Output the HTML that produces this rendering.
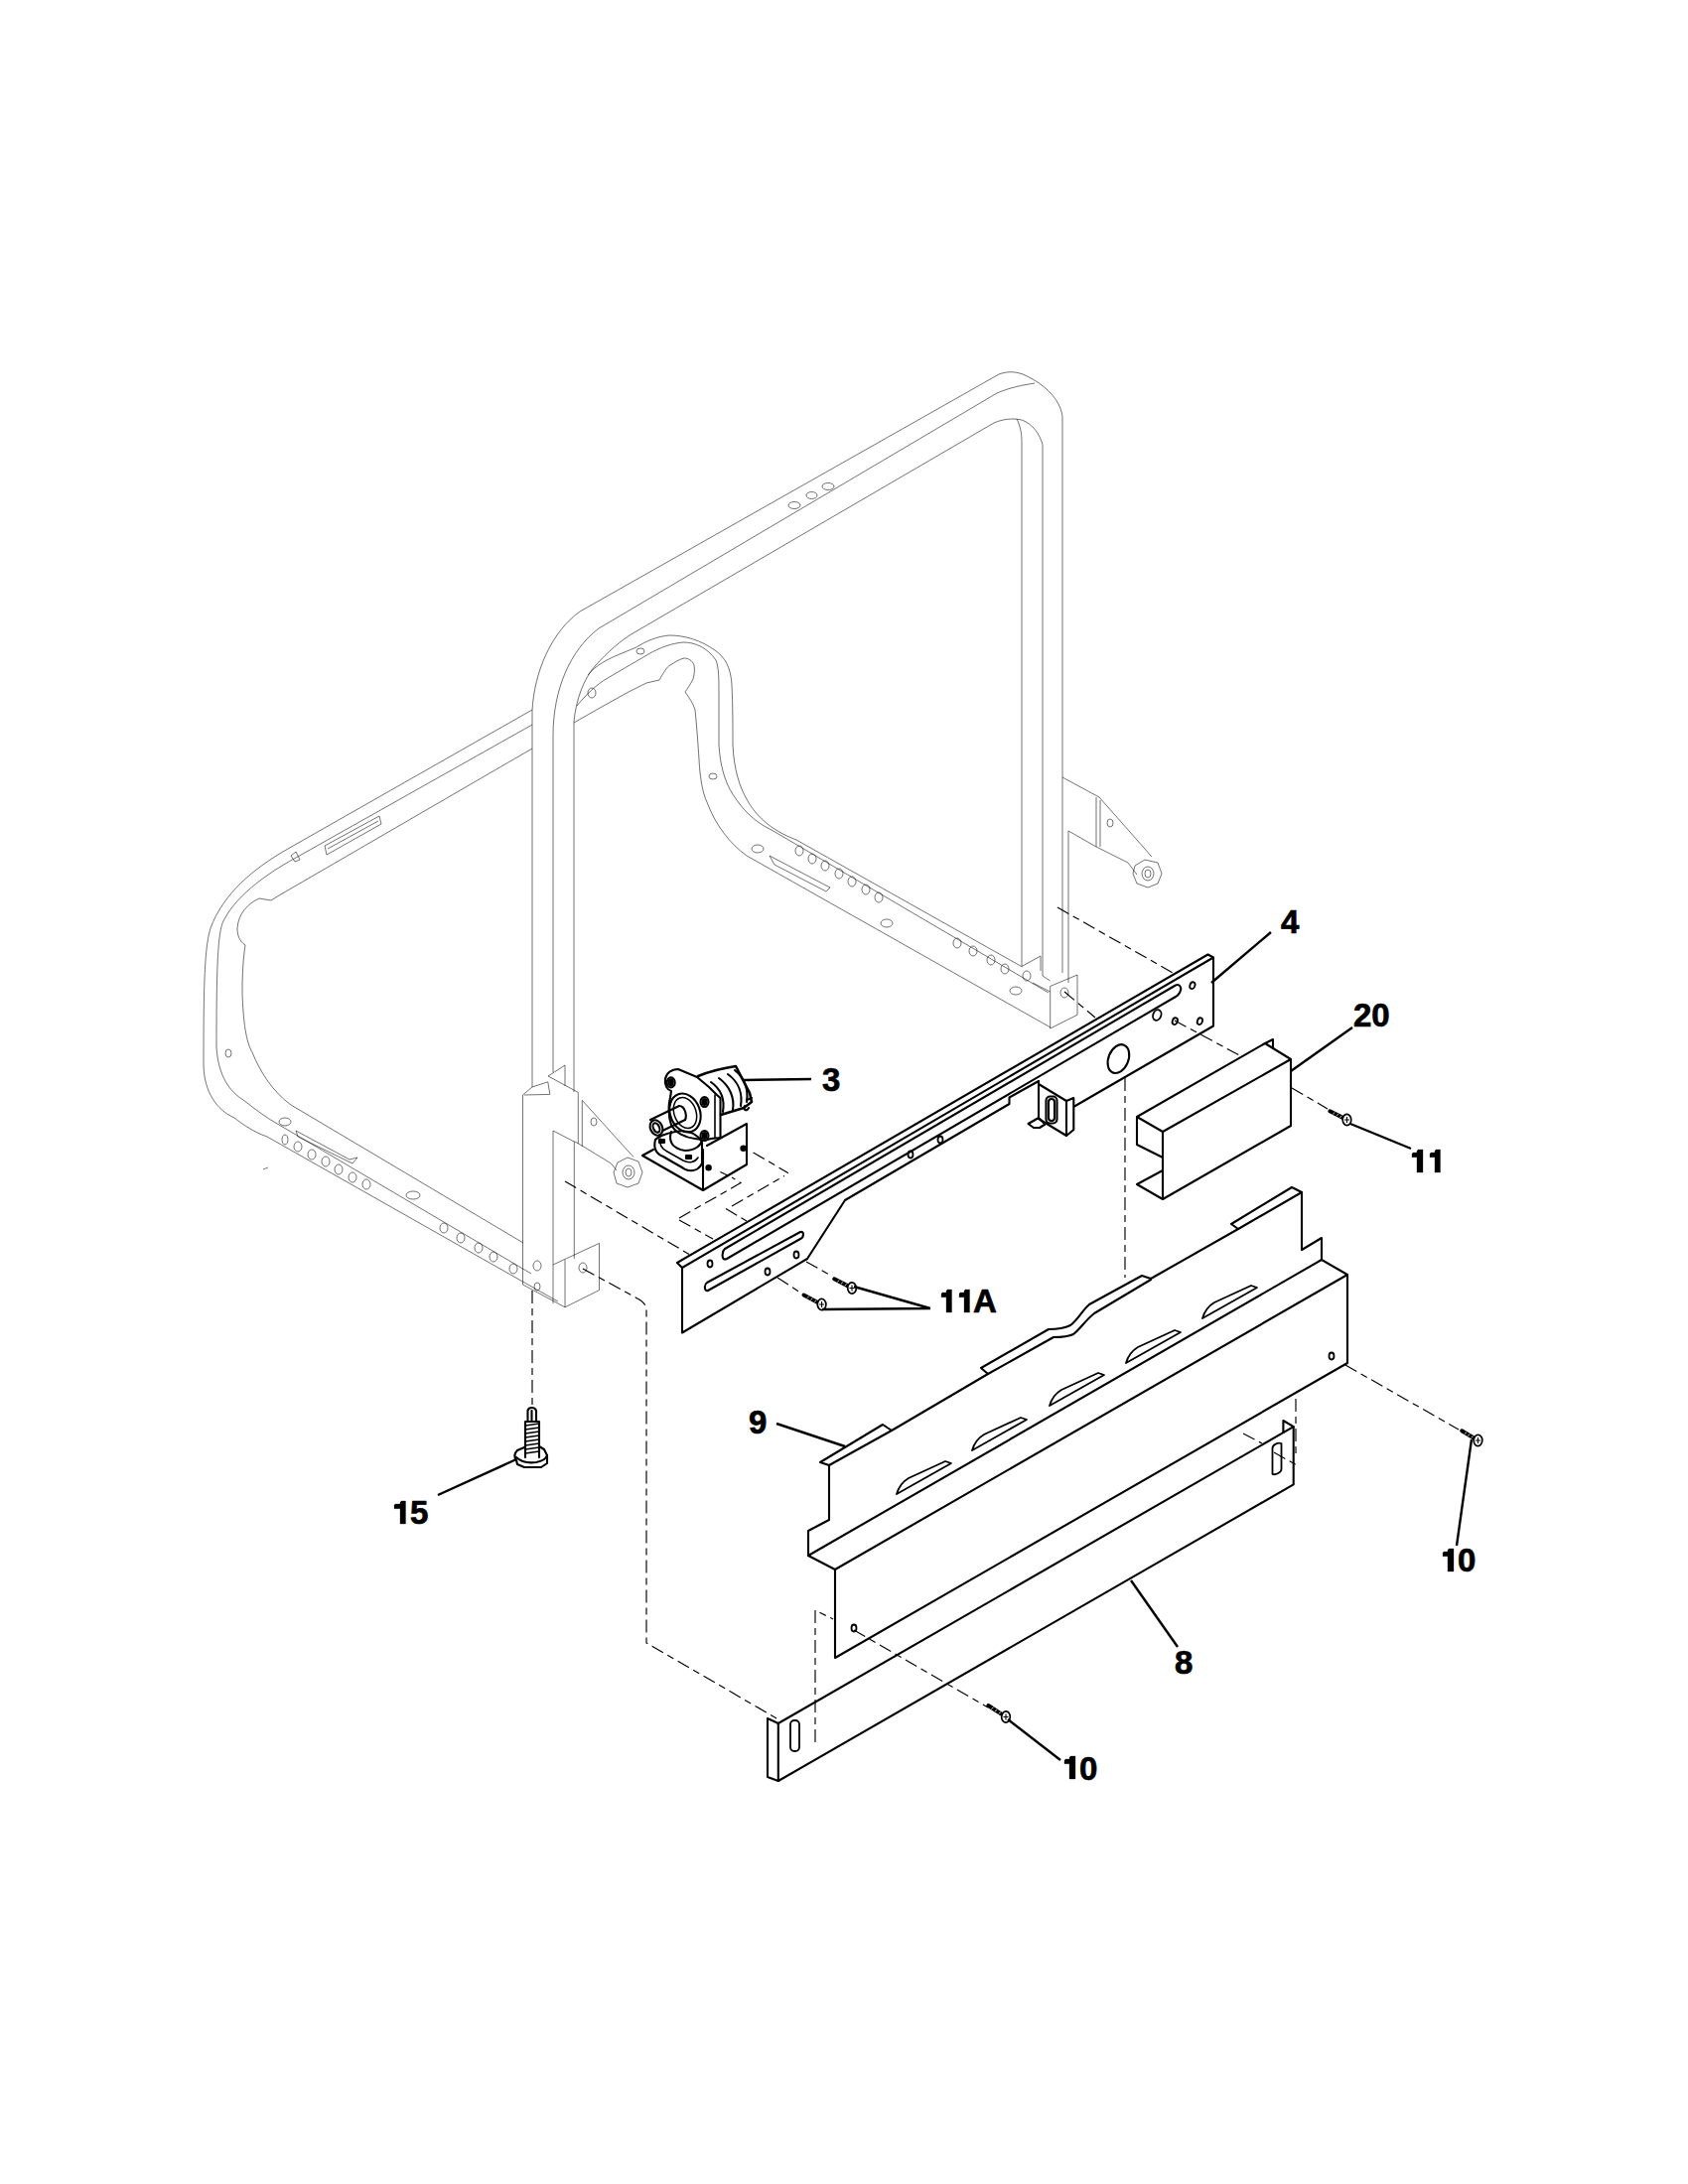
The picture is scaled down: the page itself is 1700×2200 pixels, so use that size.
<!DOCTYPE html>
<html><head><meta charset="utf-8">
<style>
html,body{margin:0;padding:0;background:#fff;}
body{width:1700px;height:2200px;overflow:hidden;}
svg{display:block;}
.fr{fill:none;stroke:#000;stroke-opacity:.55;stroke-width:1;stroke-linejoin:round;}
.bk{fill:none;stroke:#000;stroke-width:2.1;stroke-linejoin:round;stroke-linecap:round;}
.th{fill:none;stroke:#000;stroke-width:1.8;stroke-linejoin:round;stroke-linecap:round;}
.ds{fill:none;stroke:#000;stroke-width:1.15;stroke-dasharray:13 5 7 5;}
.ld{fill:none;stroke:#000;stroke-width:2.4;}
text{font-family:"Liberation Sans",sans-serif;font-weight:bold;font-size:33px;fill:#000;stroke:#000;stroke-width:0.7px;}
</style></head>
<body>
<svg width="1700" height="2200" viewBox="0 0 1700 2200">
<g id="frame" class="fr">
<!-- top rear rail + posts -->
<path d="M536,1095 V716 C538,676 556,636 584,616 L1006,377 C1014,374 1022,374 1030,377 C1045,383 1060,395 1066,407 C1069,413 1070,418 1070,421 V980"/>
<path d="M557,1080 V741 C557,695 574,655 603,633 L1004,396 C1018,390 1030,388 1042,386"/>
<path d="M578,1100 V727 C580,705 588,683 600,670 C612,657 625,645 639,637 L1001,426 C1010,422 1020,421 1029,423 C1040,427 1047,437 1050,448 V983"/>
<path d="M1024,422 C1028,430 1029,438 1029,445 V973"/>
<ellipse cx="800" cy="509" rx="6" ry="3.5"/><ellipse cx="817.5" cy="499" rx="5.5" ry="3.5"/><ellipse cx="834" cy="490" rx="6" ry="3.5"/>
<!-- rear lower hook tube -->
<path d="M592,680 C600,670 612,664 624,659 L641,652 C650,646 662,641 674,640 C690,640 706,645 720,655 C730,662 736,672 737,690 C738,710 738,735 738,750 C739,775 745,793 752,805 C760,820 775,836 802,846 L1029.5,974"/>
<path d="M581,711 C590,700 600,690 612,683 L653,659 C665,652 677,648 688,647 C700,647 712,652 721,665 C724,672 724,685 724,700 V750 C725,770 730,788 738,800 C748,816 760,828 777,836 L1056,1000"/>
<path d="M578,728 L606,712 L633,697 L651,688 L664,685 C668,678 672,671 675,670 C680,667 684,664 689,663 C693,663 697,665 699,670 C700,676 699,680 698,684 C695,690 692,694 690,697 C694,703 698,708 700,715 C702,735 703,750 704,765 C705,785 708,800 712,808 C720,830 735,850 752,862 L1058,1035"/>
<!-- holes on hook tube -->
<ellipse cx="645" cy="656" rx="4" ry="3"/>
<ellipse cx="596" cy="698" rx="4" ry="5"/>
<ellipse cx="718" cy="782" rx="4" ry="3"/>
<ellipse cx="763" cy="855" rx="6" ry="4"/>
<path d="M775,862 L830,891 L836,894 L832,898 L780,871 Z"/>
<ellipse cx="805" cy="857" rx="4" ry="5"/><ellipse cx="818" cy="865" rx="4" ry="5"/><ellipse cx="831" cy="872" rx="4" ry="5"/>
<ellipse cx="845" cy="880" rx="4" ry="5"/><ellipse cx="858" cy="888" rx="4" ry="5"/><ellipse cx="872" cy="896" rx="4" ry="5"/><ellipse cx="885" cy="904" rx="4" ry="5"/>
<ellipse cx="893" cy="930" rx="6" ry="4"/>
<ellipse cx="964" cy="950" rx="4" ry="5"/><ellipse cx="980" cy="958" rx="4" ry="5"/><ellipse cx="998" cy="967" rx="4" ry="5"/><ellipse cx="1012" cy="976" rx="4" ry="5"/>
<ellipse cx="1023" cy="998" rx="6" ry="4"/>
<ellipse cx="1034" cy="983" rx="4" ry="5"/>
<!-- right foot block -->
<path d="M1029,973.5 L1048,963 V978"/>
<path d="M1057.7,993.5 V1036 L1085,1022.3 V982 L1057.7,993.5"/>
<path d="M1050,983 L1057.7,988 M1040,990 L1057.7,999"/>
<ellipse cx="1072" cy="1000" rx="4" ry="5"/>
<!-- right bracket -->
<path d="M1070,783 L1107,803 L1160,863"/>
<path d="M1076,837 V990"/>
<path d="M1076,837 L1104,853 L1136,869 L1145,881"/>
<path d="M1104,803 V853 M1108,806 V853"/>
<ellipse cx="1118" cy="829" rx="3" ry="4"/>
<path d="M1143,872 L1153,866 L1166,869 L1170,880 L1166,890 L1156,894 L1145,890 L1141,880 Z"/>
<ellipse cx="1156" cy="880" rx="6" ry="7"/><ellipse cx="1156" cy="880" rx="3" ry="4"/>
<!-- left side rail -->
<path d="M536,715 L290,855 C255,875 225,900 212,935 C206,955 205,990 205,1074 C206,1100 218,1118 236,1126 C245,1133 255,1140 269,1145 L530,1293 L562,1311"/>
<path d="M536,730 L298,864 C265,882 235,905 224,930 C219,945 218,980 218,1055 C220,1085 232,1100 245,1108 C258,1118 268,1126 281,1133 L535,1283"/>
<path d="M536,754 L281,902 L273,907 L261,905 C250,910 240,920 239,935 C239,942 241,948 247,952 C245,965 244,980 244,1000 C245,1030 248,1050 254,1060 C262,1080 275,1100 293,1113 L527,1252"/>
<!-- holes/slots left rail -->
<path d="M327,852 L382,822 L384,830 L329,861 Z M330,855 L381,827"/>
<path d="M293,862 L298,858 L302,866 L297,868 Z"/>
<ellipse cx="230" cy="1061" rx="3" ry="4"/>
<ellipse cx="287" cy="1130" rx="6" ry="4"/>
<path d="M298,1139 L352,1168 L360,1166 L355,1172 L300,1145 Z"/>
<ellipse cx="287" cy="1148" rx="3" ry="5"/>
<ellipse cx="300" cy="1155" rx="4" ry="5"/><ellipse cx="314" cy="1163" rx="4" ry="5"/><ellipse cx="328" cy="1170" rx="4" ry="5"/>
<ellipse cx="341" cy="1178" rx="4" ry="5"/><ellipse cx="355" cy="1186" rx="4" ry="5"/><ellipse cx="369" cy="1193" rx="4" ry="5"/>
<ellipse cx="416" cy="1204" rx="7" ry="4"/>
<ellipse cx="447" cy="1237" rx="4" ry="5"/><ellipse cx="464" cy="1247" rx="4" ry="5"/><ellipse cx="482" cy="1257" rx="4" ry="5"/>
<ellipse cx="497" cy="1266" rx="4" ry="5"/><ellipse cx="517" cy="1278" rx="4" ry="5"/>
<ellipse cx="541" cy="1275" rx="4" ry="5"/>
<!-- left foot block -->
<path d="M526.5,1294 V1103 L536,1095 L551.8,1089.8 L553.8,1102.4 L528,1103"/>
<path d="M552,1084 L569,1073 V1094 M552,1084 L582.3,1100.4"/>
<path d="M557,1139 V1313 M557,1139 L578.3,1150 V1268"/>
<path d="M557,1274 L603.5,1252.4 V1299.6 L569,1316.8 L526.5,1294"/>
<path d="M569,1317 V1269"/>
<ellipse cx="587" cy="1277" rx="4" ry="5"/>
<ellipse cx="541" cy="1296" rx="3" ry="4"/>
<!-- left bracket -->
<path d="M582.3,1100.4 V1152 M586.3,1108.4 V1155 M586.3,1108.4 L638,1165.5"/>
<path d="M578.3,1149.6 L586,1154 L615.5,1172 L621,1179"/>
<ellipse cx="598" cy="1130" rx="3" ry="4"/>
<path d="M622,1171 L632,1166 L643,1170 L647,1181 L643,1192 L632,1196 L621,1192 L618,1181 Z"/>
<ellipse cx="633" cy="1181" rx="6" ry="7"/><ellipse cx="633" cy="1181" rx="3" ry="4"/>
<path d="M265,1178 L270,1176"/>
</g>

<g id="dashes" class="ds">
<path d="M1065,914 L1183,981"/>
<path d="M1072,999 L1103,1025"/>
<path d="M1183,1028 L1250,1064"/>
<path d="M1301,1096 L1337,1117"/>
<path d="M1133,1086 V1287"/>
<path d="M1305,1409 V1469 M1252,1444 L1271,1454 M1283,1463 L1306,1476"/>
<path d="M1355,1375 L1469,1440"/>
<path d="M860,1642 L995,1720"/>
<path d="M821,1755 V1622 L839,1631"/>
<path d="M587,1278 L642,1308 C648,1311 651,1315 651,1320 V1655 L784,1732"/>
<path d="M536,1300 V1417"/>
<path d="M569,1190 L695,1264"/>
<path d="M812,1271 L837,1285 M783,1287 L806,1302"/>
<path d="M684,1227 L746,1191.5 L737,1186 M684,1229 L718,1248 M731,1217.5 L752,1230 M737,1215 L790,1184.5 M758.6,1161 L794,1181.7 M725.4,1180.4 L733.2,1184.3"/>
</g>
<g id="p4" class="bk">
<path d="M682,1272 L1216.5,961.5 L1222,964.5 V1033.5 L1082,1114.5 M1046,1089 L1016.5,1105.5 V1112 L851,1209 L813,1268 L687,1342.5 V1277 L682,1272"/>
<path d="M687,1277 L1222,964.5"/>
<path d="M730,1258 L1183,993 C1188,990 1191,995 1188,1000 C1187,1002 1186,1003 1184,1004 L732,1268 C728,1270 727,1266 728,1262 C728,1260 729,1259 730,1258 Z"/>
<path d="M712,1292 L806,1241 C810,1240 810,1246 806,1248 L713,1300 C709,1301 709,1294 712,1292 Z"/>
<ellipse cx="1126.4" cy="1066.6" rx="10" ry="15" transform="rotate(22 1126.4 1066.6)"/>
</g>
<g class="th">
<ellipse cx="1165.3" cy="1022.5" rx="4" ry="5.5" transform="rotate(20 1165.3 1022.5)"/>
<ellipse cx="1200.9" cy="992.7" rx="2.5" ry="3.5" transform="rotate(20 1200.9 992.7)"/>
<ellipse cx="1183.3" cy="1028.7" rx="2.5" ry="3.5" transform="rotate(20 1183.3 1028.7)"/>
<ellipse cx="1208.4" cy="1028.7" rx="2.5" ry="3.5" transform="rotate(20 1208.4 1028.7)"/>
<ellipse cx="947" cy="1148" rx="2.5" ry="3.5"/>
<ellipse cx="917" cy="1163" rx="2.5" ry="3.5"/>
<ellipse cx="715" cy="1273" rx="2.5" ry="3.5"/>
<ellipse cx="802" cy="1264" rx="2.5" ry="3.5"/>
<ellipse cx="773" cy="1281" rx="2.5" ry="3.5"/>
</g>
<g id="clip" class="bk">
<path d="M1046,1089 V1127 L1074,1144 L1081.3,1138 V1106 L1074,1109 L1046,1092"/>
<path d="M1074,1109 V1144 M1035.5,1132 L1046,1126 L1052.5,1132.5 L1047,1136 H1041 Z"/>
<rect x="1053.5" y="1104.5" width="11" height="27" rx="4"/>
<rect x="1056" y="1107" width="6" height="22" rx="3"/>
</g>
<g id="valve" class="bk">
<path d="M647,1164 L658,1158 M647,1164 L708,1199 L752,1173 V1132 L712,1154 M708,1199 V1158"/>
<circle cx="748.6" cy="1156.7" r="2.2" fill="#000"/>
<circle cx="713.6" cy="1176.3" r="2.2" fill="#000"/>
<path d="M660,1148 C658,1156 660,1162 668,1165 C676,1170 684,1174 690,1178 C698,1181 704,1178 707,1172 V1150 C700,1140 690,1138 680,1140 C670,1142 664,1144 660,1148 Z"/>
<path d="M676,1140 C673,1150 677,1157 690,1159 C700,1159 706,1154 707,1148"/>
<path d="M665,1147 C664,1152 666,1157 672,1160 L688,1169 C694,1172 700,1171 703,1166" stroke-width="1.6"/>
<rect x="664" y="1148" width="5" height="3" fill="#000"/>
<rect x="691" y="1164" width="5" height="3" fill="#000"/>
<path d="M683,1077 C676,1077 671,1081 670,1087 C669,1093 672,1098 676,1099 L675,1106 C673,1112 673,1125 676,1133 C680,1141 690,1146 700,1147 C706,1148 712,1149 716,1147 L725.5,1146 V1106 L722,1103 L714,1095 L702,1085 Z"/>
<path d="M720,1103 V1146" stroke-width="1.6"/>
<ellipse cx="690" cy="1121" rx="15" ry="20" transform="rotate(-20 690 1121)"/>
<ellipse cx="690" cy="1121" rx="11" ry="16" transform="rotate(-20 690 1121)" stroke-width="1.5"/>
<ellipse cx="675.7" cy="1090.4" rx="4" ry="5" fill="#fff"/><ellipse cx="675.7" cy="1090.4" rx="2" ry="3" fill="#000"/>
<ellipse cx="709.5" cy="1110" rx="4" ry="5" fill="#fff"/><ellipse cx="709.5" cy="1110" rx="2" ry="3" fill="#000"/>
<ellipse cx="709.5" cy="1144" rx="4" ry="5" fill="#fff"/><ellipse cx="709.5" cy="1144" rx="2" ry="3" fill="#000"/>
<path d="M655,1128 L684,1114 M661,1142 L690,1128"/>
<path d="M684,1114 C690,1114 692,1124 690,1128"/>
<ellipse cx="661" cy="1136" rx="6" ry="8" transform="rotate(-25 661 1136)" fill="#fff"/>
<ellipse cx="661" cy="1136" rx="3" ry="5" transform="rotate(-25 661 1136)"/>
<path d="M703,1084 C715,1079 728,1076 741,1074 L755,1101 L757,1110 L749,1116 L726,1123" stroke-width="2.6"/>
<path d="M716,1090 C726,1097 730,1108 728,1120 M724,1086 C735,1094 740,1106 738,1118 M733,1082 C744,1090 748,1102 746,1114 M740,1078 C750,1086 754,1098 752,1110"/>
<path d="M752,1108 L757,1106 M750,1114 C748,1118 752,1120 754,1116"/>
</g>
<g id="leg" class="bk">
<path d="M531.5,1432 V1421 C532,1417 539,1417 540,1421 V1432"/>
<path d="M535.5,1421 V1432"/>
<path d="M529,1432 H543 V1468 M529,1432 V1468"/>
<path d="M529,1436 L543,1434 M529,1440 L543,1438 M529,1444 L543,1442 M529,1448 L543,1446 M529,1452 L543,1450 M529,1456 L543,1454 M529,1460 L543,1458 M529,1464 L543,1462" stroke-width="1.6"/>
<path d="M528,1458 L521,1461 C518,1464 518,1468 520,1471 L521,1475 L528,1478 H545 L551,1474 V1466 L548,1460 L543,1457"/>
<path d="M520,1468 C524,1472 532,1474 540,1473 C546,1472 550,1469 551,1466"/>
</g>
<g id="screws">
<path d="M809.5,1304.5 L824.5,1312.4" stroke="#000" stroke-width="4" stroke-linecap="round" fill="none"/>
<path d="M812.7,1307.5 L814.7,1305.9" stroke="#fff" stroke-width="0.8" fill="none"/>
<path d="M816.4,1309.5 L818.4,1307.8" stroke="#fff" stroke-width="0.8" fill="none"/>
<path d="M820.2,1311.5 L822.2,1309.8" stroke="#fff" stroke-width="0.8" fill="none"/>
<ellipse cx="827.6" cy="1314.0" rx="4.3" ry="5.6" transform="rotate(-2 827.6 1314.0)" fill="#fff" stroke="#000" stroke-width="1.7"/>
<path d="M825.1,1314.0 H830.1 M827.6,1311.0 V1317.0" stroke="#000" stroke-width="1.1" fill="none"/>
<path d="M840.2,1288.3 L854.9,1295.9" stroke="#000" stroke-width="4" stroke-linecap="round" fill="none"/>
<path d="M843.3,1291.3 L845.3,1289.6" stroke="#fff" stroke-width="0.8" fill="none"/>
<path d="M847.0,1293.2 L849.0,1291.5" stroke="#fff" stroke-width="0.8" fill="none"/>
<path d="M850.7,1295.1 L852.7,1293.4" stroke="#fff" stroke-width="0.8" fill="none"/>
<ellipse cx="858.0" cy="1297.5" rx="4.3" ry="5.6" transform="rotate(-3 858.0 1297.5)" fill="#fff" stroke="#000" stroke-width="1.7"/>
<path d="M855.5,1297.5 H860.5 M858.0,1294.5 V1300.5" stroke="#000" stroke-width="1.1" fill="none"/>
<path d="M1339.3,1119.3 L1353.4,1126.4" stroke="#000" stroke-width="4" stroke-linecap="round" fill="none"/>
<path d="M1342.3,1122.2 L1344.3,1120.5" stroke="#fff" stroke-width="0.8" fill="none"/>
<path d="M1345.8,1123.9 L1347.8,1122.2" stroke="#fff" stroke-width="0.8" fill="none"/>
<path d="M1349.3,1125.7 L1351.3,1124.0" stroke="#fff" stroke-width="0.8" fill="none"/>
<ellipse cx="1356.5" cy="1128.0" rx="4.3" ry="5.6" transform="rotate(-3 1356.5 1128.0)" fill="#fff" stroke="#000" stroke-width="1.7"/>
<path d="M1354.0,1128.0 H1359.0 M1356.5,1125.0 V1131.0" stroke="#000" stroke-width="1.1" fill="none"/>
<path d="M1472.2,1441.3 L1485.5,1449.2" stroke="#000" stroke-width="4" stroke-linecap="round" fill="none"/>
<path d="M1474.9,1444.3 L1477.0,1442.8" stroke="#fff" stroke-width="0.8" fill="none"/>
<path d="M1478.2,1446.3 L1480.3,1444.7" stroke="#fff" stroke-width="0.8" fill="none"/>
<path d="M1481.6,1448.3 L1483.6,1446.7" stroke="#fff" stroke-width="0.8" fill="none"/>
<ellipse cx="1488.5" cy="1451.0" rx="4.3" ry="5.6" transform="rotate(1 1488.5 1451.0)" fill="#fff" stroke="#000" stroke-width="1.7"/>
<path d="M1486.0,1451.0 H1491.0 M1488.5,1448.0 V1454.0" stroke="#000" stroke-width="1.1" fill="none"/>
<path d="M995.3,1718.0 L1010.1,1727.6" stroke="#000" stroke-width="4" stroke-linecap="round" fill="none"/>
<path d="M998.3,1721.4 L1000.5,1719.9" stroke="#fff" stroke-width="0.8" fill="none"/>
<path d="M1002.0,1723.8 L1004.2,1722.3" stroke="#fff" stroke-width="0.8" fill="none"/>
<path d="M1005.7,1726.2 L1007.9,1724.7" stroke="#fff" stroke-width="0.8" fill="none"/>
<ellipse cx="1013.0" cy="1729.5" rx="4.3" ry="5.6" transform="rotate(3 1013.0 1729.5)" fill="#fff" stroke="#000" stroke-width="1.7"/>
<path d="M1010.5,1729.5 H1015.5 M1013.0,1726.5 V1732.5" stroke="#000" stroke-width="1.1" fill="none"/>
</g>
<g id="p20" class="bk">
<path d="M1145,1125 L1274,1051 L1300,1067 V1134 L1171,1208 L1145,1193 L1171,1179 M1145,1125 V1153 L1171,1166 M1145,1125 L1171,1140 V1208 M1171,1140 L1300,1067"/>
<path d="M1274,1051 L1282,1047 V1056"/>
</g>
<g id="p9" class="bk">
<path d="M826,1473 L889,1435 L898,1441 L835,1476 Z"/>
<path d="M835,1476 V1531 L814,1542 V1567 L841,1581 V1670 L1357,1373 V1284 L1331,1269 V1247 L1311,1259 V1201 L1301,1196 L1240,1233 L1247,1238 L1159,1288 L1150,1285 L1097,1314 C1090,1320 1085,1330 1078,1335 C1072,1338 1064,1339 1056,1339 L988,1378 L995,1384 L898,1441"/>
<path d="M1247,1238 L1311,1201"/>
<path d="M1159,1289 L1102,1323 C1093,1330 1087,1340 1081,1344 C1075,1347 1068,1347 1061,1347 L995,1384"/>
<path d="M814,1567 L1331,1269 M841,1581 L1357,1284"/>
</g>
<g class="th">
<path d="M903,1505 C905,1498 910,1492 915,1489 L952,1472 L958,1474 L903,1505 Z"/>
<path d="M979,1461 C981,1454 986,1448 991,1445 L1028,1428 L1034,1430 L979,1461 Z"/>
<path d="M1057,1416 C1059,1409 1064,1403 1069,1400 L1106,1383 L1112,1385 L1057,1416 Z"/>
<path d="M1134,1373 C1136,1366 1141,1360 1146,1357 L1183,1340 L1189,1342 L1134,1373 Z"/>
<path d="M1211,1328 C1213,1321 1218,1315 1223,1312 L1260,1295 L1266,1297 L1211,1328 Z"/>
<ellipse cx="860" cy="1640" rx="2.5" ry="3.5"/>
<ellipse cx="1341" cy="1366" rx="2.5" ry="3.5"/>
</g>
<g id="p8" class="bk">
<path d="M773,1731 L783.8,1736 V1794 L773,1790 Z"/>
<path d="M783.8,1736 L1302.7,1437.2 V1495.4 L783.8,1794"/>
<path d="M1292.4,1443 V1431 L1302.7,1437.2"/>
</g>
<g class="th">
<rect x="796" y="1733" width="9" height="31" rx="4"/>
<path d="M1281.5,1459 C1281.5,1455 1287,1453 1290.5,1454 V1480 C1290.5,1483 1285,1486 1281.5,1485 Z"/>
</g>
<g id="leaders" class="ld">
<path d="M1280,939 L1220,990"/>
<path d="M1362,1035 L1300,1079"/>
<path d="M749,1088 L817,1087"/>
<path d="M1421,1157 L1360,1132"/>
<path d="M937,1318 L860,1296 M937,1318 L828,1319"/>
<path d="M782,1434 L851,1457"/>
<path d="M441,1506 L520,1470"/>
<path d="M1467,1557 L1482,1450"/>
<path d="M1186,1659 L1139,1592"/>
<path d="M1068,1773 L1015,1732"/>
</g>
<g id="labels">
<text x="1290" y="940">4</text>
<text x="1363" y="1034">20</text>
<text x="828" y="1099">3</text>
<text x="980" y="1322">A</text>
<text x="754" y="1444">9</text>
<text x="413" y="1535">5</text>
<text x="1468" y="1583">0</text>
<text x="1183" y="1686">8</text>
<text x="1087" y="1793">0</text>
<path d="M1428.2,1158 H1433 V1181 H1427 V1165.7 H1422 V1162.2 L1423.2,1161.1 H1427 V1159.5 Z M1446.2,1158 H1450.5 V1181 H1445 V1165.7 H1440 V1162.2 L1441.2,1161.1 H1445 V1159.5 Z M954.2,1299 H958.5 V1322 H953 V1306.7 H948 V1303.2 L949.2,1302.1 H953 V1300.5 Z M972.2,1299 H976.5 V1322 H971 V1306.7 H966 V1303.2 L967.2,1302.1 H971 V1300.5 Z M404.2,1512 H408.5 V1535 H403 V1519.7 H397 V1516.2 L398.2,1515.1 H403 V1513.5 Z M1459.2,1560 H1464 V1583 H1458 V1567.7 H1453 V1564.2 L1454.2,1563.1 H1458 V1561.5 Z M1078.2,1769 H1083 V1792 H1077 V1776.7 H1072 V1773.2 L1073.2,1772.1 H1077 V1770.5 Z" fill="#000" stroke="#000" stroke-width="0.3"/>
</g>
</svg>
</body></html>
